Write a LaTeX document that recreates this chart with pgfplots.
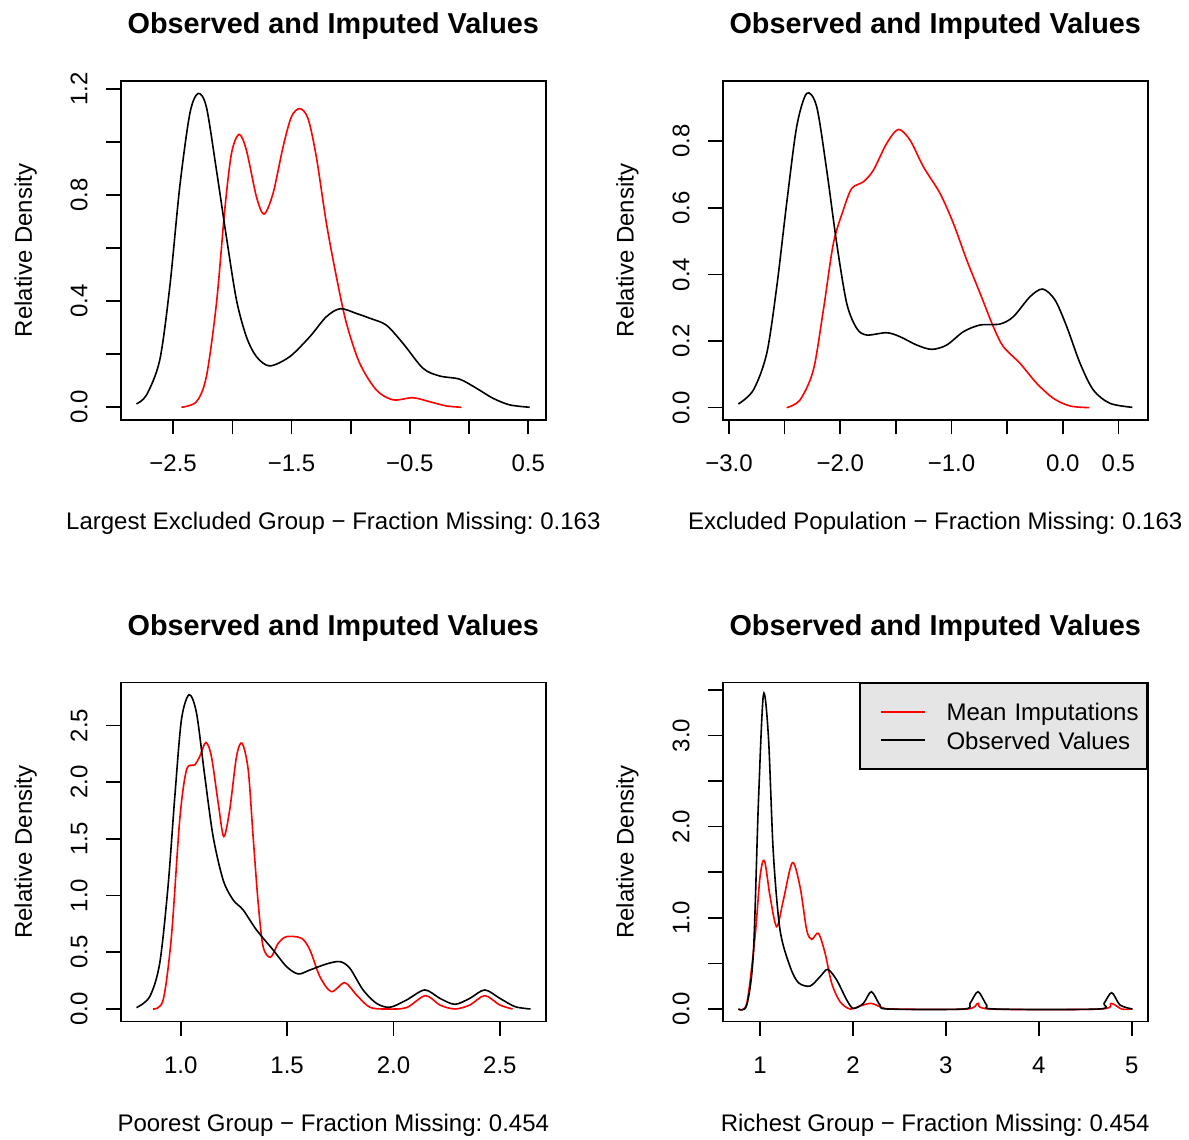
\documentclass[12pt,border=0pt]{standalone}
\usepackage{fontspec}
\setmainfont{Liberation Sans}
\usepackage{pgfplots}
\pgfplotsset{compat=1.18}
\frenchspacing
\pgfplotsset{
 rplot/.style={
  scale only axis, width=212.5pt, height=169.6pt,
  axis line style={line width=0.8pt},
  every axis plot/.append style={line width=0.8pt, smooth, tension=0.5},
  tick align=outside, tick pos=left,
  major tick length=7.2pt,
  tick style={black, line width=0.8pt},
  xticklabel style={anchor=base, inner sep=0pt},
  yticklabel style={rotate=90, anchor=base, inner sep=0pt},
  xticklabel shift=18.6pt, yticklabel shift=9.5pt,
  clip=false,
 },
}
\begin{document}
\frenchspacing
\begin{tikzpicture}
\useasboundingbox (0,0) rectangle (594.5pt,570pt);
% ---------- Panel 1 ----------
\begin{axis}[rplot, at={(60.4pt,360pt)}, anchor=south west,
  xmin=-2.942, xmax=0.648, ymin=-0.048, ymax=1.232,
  xtick={-2.5,-2,-1.5,-1,-0.5,0,0.5}, xticklabels={−2.5,,−1.5,,−0.5,,0.5},
  ytick={0,0.2,0.4,0.6,0.8,1.0,1.2}, yticklabels={0.0,,0.4,,0.8,,1.2}]
\addplot[red] coordinates {(-2.43,0) (-2.303,0.021) (-2.219,0.116) (-2.134,0.392) (-2.064,0.744) (-2.007,0.958) (-1.943,1.030) (-1.881,0.970) (-1.796,0.794) (-1.732,0.729) (-1.656,0.807) (-1.571,0.983) (-1.501,1.096) (-1.430,1.127) (-1.360,1.089) (-1.290,0.944) (-1.205,0.694) (-1.121,0.493) (-1.036,0.317) (-0.924,0.166) (-0.783,0.065) (-0.642,0.028) (-0.474,0.036) (-0.333,0.021) (-0.192,0.005) (-0.065,0)};
\addplot[black] coordinates {(-2.81,0.013) (-2.725,0.046) (-2.613,0.178) (-2.528,0.455) (-2.444,0.832) (-2.359,1.108) (-2.289,1.184) (-2.219,1.133) (-2.134,0.895) (-2.05,0.643) (-1.965,0.405) (-1.881,0.266) (-1.796,0.191) (-1.684,0.156) (-1.515,0.191) (-1.346,0.266) (-1.205,0.342) (-1.087,0.372) (-0.952,0.354) (-0.839,0.336) (-0.699,0.310) (-0.558,0.241) (-0.389,0.147) (-0.248,0.118) (-0.080,0.106) (0.061,0.072) (0.202,0.034) (0.343,0.009) (0.512,0.0)};
\node[anchor=base, font=\fontsize{14.4}{17}\selectfont\bfseries] at ([yshift=23.7pt]rel axis cs:0.5,1) {Observed and Imputed Values};
\node[anchor=base] at ([yshift=-54.7pt]rel axis cs:0.5,0) {Largest Excluded Group − Fraction Missing: 0.163};
\node[rotate=90, anchor=base] at ([xshift=-44.5pt]rel axis cs:0,0.5) {Relative Density};
\end{axis}
% ---------- Panel 2 ----------
\begin{axis}[rplot, at={(361.35pt,360pt)}, anchor=south west,
  xmin=-3.057, xmax=0.764, ymin=-0.037, ymax=0.981,
  xtick={-3,-2.5,-2,-1.5,-1,-0.5,0,0.5}, xticklabels={−3.0,,−2.0,,−1.0,,0.0,0.5},
  ytick={0,0.2,0.4,0.6,0.8}, yticklabels={0.0,0.2,0.4,0.6,0.8}]
\addplot[red] coordinates {(-2.482,0) (-2.362,0.023) (-2.242,0.113) (-2.152,0.293) (-2.062,0.493) (-1.973,0.593) (-1.897,0.658) (-1.792,0.678) (-1.702,0.713) (-1.583,0.793) (-1.478,0.835) (-1.373,0.803) (-1.253,0.723) (-1.103,0.643) (-0.983,0.553) (-0.863,0.443) (-0.743,0.343) (-0.624,0.243) (-0.534,0.183) (-0.384,0.133) (-0.234,0.073) (-0.084,0.028) (0.066,0.005) (0.240,0)};
\addplot[black] coordinates {(-2.916,0.011) (-2.781,0.053) (-2.661,0.163) (-2.571,0.363) (-2.482,0.613) (-2.392,0.843) (-2.302,0.943) (-2.212,0.903) (-2.122,0.713) (-2.032,0.493) (-1.942,0.313) (-1.852,0.238) (-1.762,0.218) (-1.583,0.225) (-1.463,0.213) (-1.313,0.188) (-1.178,0.175) (-1.043,0.188) (-0.893,0.228) (-0.743,0.248) (-0.564,0.251) (-0.444,0.273) (-0.294,0.333) (-0.180,0.356) (-0.069,0.323) (0.036,0.243) (0.156,0.133) (0.275,0.053) (0.425,0.013) (0.626,0.001)};
\node[anchor=base, font=\fontsize{14.4}{17}\selectfont\bfseries] at ([yshift=23.7pt]rel axis cs:0.5,1) {Observed and Imputed Values};
\node[anchor=base] at ([yshift=-54.7pt]rel axis cs:0.5,0) {Excluded Population − Fraction Missing: 0.163};
\node[rotate=90, anchor=base] at ([xshift=-44.5pt]rel axis cs:0,0.5) {Relative Density};
\end{axis}
% ---------- Panel 3 ----------
\begin{axis}[rplot, at={(60.4pt,59.15pt)}, anchor=south west,
  xmin=0.718, xmax=2.716, ymin=-0.112, ymax=2.879,
  xtick={1,1.5,2,2.5}, xticklabels={1.0,1.5,2.0,2.5},
  ytick={0,0.5,1,1.5,2,2.5}, yticklabels={0.0,0.5,1.0,1.5,2.0,2.5}]
\addplot[red] coordinates {(0.870,0) (0.917,0.079) (0.956,0.638) (0.995,1.668) (1.027,2.109) (1.066,2.153) (1.089,2.226) (1.118,2.35) (1.144,2.226) (1.176,1.815) (1.202,1.521) (1.230,1.756) (1.262,2.226) (1.288,2.344) (1.317,2.109) (1.340,1.521) (1.364,0.932) (1.387,0.55) (1.422,0.456) (1.458,0.579) (1.497,0.638) (1.567,0.624) (1.607,0.521) (1.654,0.285) (1.708,0.153) (1.771,0.232) (1.826,0.124) (1.889,0.015) (1.967,0) (2.061,0.012) (2.150,0.118) (2.218,0.035) (2.288,0) (2.359,0.035) (2.429,0.118) (2.500,0.035) (2.560,0)};
\addplot[black] coordinates {(0.792,0.012) (0.854,0.109) (0.901,0.403) (0.940,1.079) (0.972,1.874) (1.003,2.55) (1.039,2.771) (1.074,2.609) (1.113,2.05) (1.152,1.521) (1.199,1.138) (1.246,0.962) (1.293,0.874) (1.356,0.697) (1.434,0.521) (1.497,0.374) (1.552,0.309) (1.607,0.344) (1.685,0.397) (1.748,0.418) (1.795,0.359) (1.857,0.168) (1.920,0.05) (1.983,0.015) (2.061,0.079) (2.147,0.168) (2.218,0.094) (2.288,0.041) (2.359,0.094) (2.429,0.168) (2.500,0.094) (2.571,0.021) (2.644,0)};
\node[anchor=base, font=\fontsize{14.4}{17}\selectfont\bfseries] at ([yshift=23.7pt]rel axis cs:0.5,1) {Observed and Imputed Values};
\node[anchor=base] at ([yshift=-54.7pt]rel axis cs:0.5,0) {Poorest Group − Fraction Missing: 0.454};
\node[rotate=90, anchor=base] at ([xshift=-44.5pt]rel axis cs:0,0.5) {Relative Density};
\end{axis}
% ---------- Panel 4 ----------
\begin{axis}[rplot, at={(361.35pt,59.15pt)}, anchor=south west,
  xmin=0.598, xmax=5.172, ymin=-0.139, ymax=3.581,
  xtick={1,2,3,4,5}, xticklabels={1,2,3,4,5},
  ytick={0,0.5,1,1.5,2,2.5,3,3.5}, yticklabels={0.0,,1.0,,2.0,,3.0,},
  legend cell align=left,
  legend style={at={(rel axis cs:1,1)}, anchor=north east,
    fill={rgb,255:red,229;green,229;blue,229}, draw=black, line width=0.8pt,
    inner xsep=0pt, inner ysep=8.8pt, row sep=3.1pt,
    cells={anchor=base west},
    nodes={inner sep=0pt, text height=10pt, text depth=1.1pt, text width=100.2pt, align=left},
    /tikz/every odd column/.append style={column sep=10.3pt}},
  legend image code/.code={\draw[#1] (10.5pt,4.5pt) -- (32.5pt,4.5pt); \path[draw=none, fill=none] (0pt,0pt) rectangle (0.1pt,0.1pt);}]
\addplot[red] coordinates {(0.767,0) (0.857,0.062) (0.946,0.794) (1.0,1.452) (1.047,1.628) (1.108,1.233) (1.179,0.903) (1.251,1.196) (1.348,1.606) (1.430,1.342) (1.502,0.867) (1.556,0.764) (1.628,0.83) (1.700,0.611) (1.771,0.282) (1.861,0.08) (1.969,0) (2.076,0.033) (2.195,0.062) (2.309,0.018) (2.435,0) (3.224,0) (3.346,0.062) (3.475,0) (4.659,0) (4.778,0.062) (4.892,0) (5.007,0)};
\addlegendentry{Mean Imputations}
\addplot[black] coordinates {(0.767,0) (0.857,0.044) (0.928,0.611) (0.982,2.257) (1.036,3.445) (1.090,2.988) (1.143,1.708) (1.215,0.867) (1.323,0.465) (1.413,0.289) (1.538,0.252) (1.646,0.355) (1.728,0.435) (1.825,0.318) (1.933,0.099) (2.004,0.007) (2.112,0.062) (2.198,0.19) (2.291,0.044) (2.381,0) (3.188,0) (3.260,0.062) (3.346,0.19) (3.439,0.044) (3.529,0) (4.641,0) (4.702,0.062) (4.785,0.179) (4.874,0.044) (5.007,0)};
\addlegendentry{Observed Values}
\node[anchor=base, font=\fontsize{14.4}{17}\selectfont\bfseries] at ([yshift=23.7pt]rel axis cs:0.5,1) {Observed and Imputed Values};
\node[anchor=base] at ([yshift=-54.7pt]rel axis cs:0.5,0) {Richest Group − Fraction Missing: 0.454};
\node[rotate=90, anchor=base] at ([xshift=-44.5pt]rel axis cs:0,0.5) {Relative Density};
\end{axis}
\end{tikzpicture}
\end{document}
